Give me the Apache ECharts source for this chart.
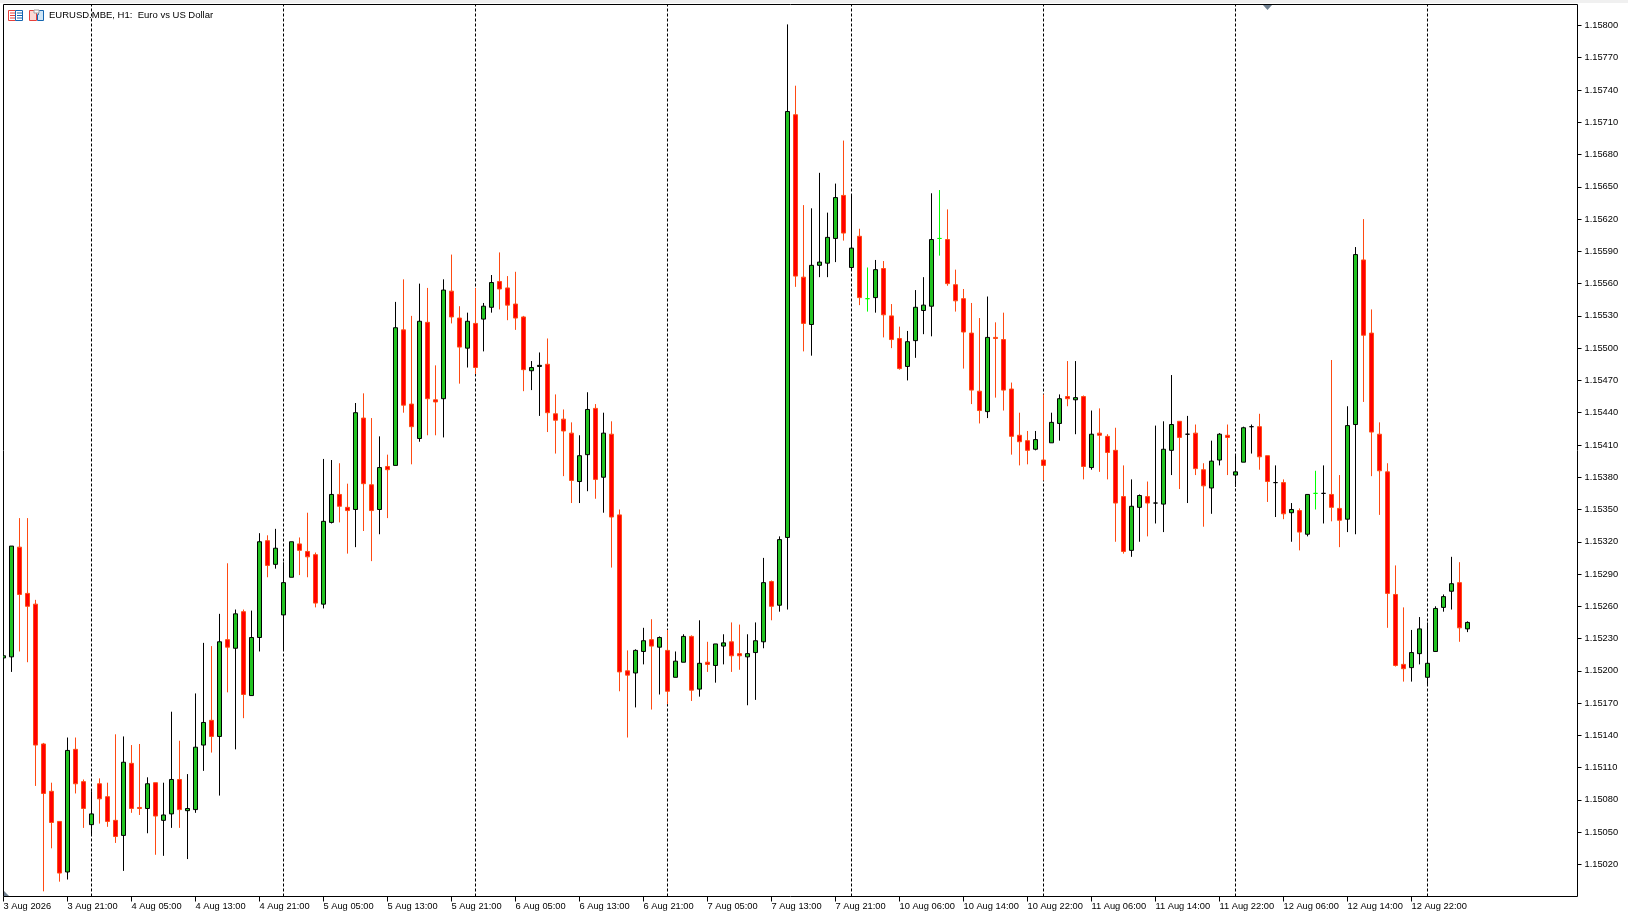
<!DOCTYPE html>
<html>
<head>
<meta charset="utf-8">
<title>EURUSD.MBE H1</title>
<script src="https://cdn.jsdelivr.net/npm/echarts@6/dist/echarts.min.js"></script>
<style>html,body{margin:0;padding:0;background:#fff;overflow:hidden}#c{width:1628px;height:917px}</style>
</head>
<body>
<div id="c"></div>
<script>
const opens = [1.15212,1.15213,1.15315,1.15272,1.15262,1.15132,1.15088,1.15060,1.15013,1.15127,1.15097,1.15057,1.15095,1.15083,1.15061,1.15047,1.15114,1.15073,1.15072,1.15096,1.15061,1.15067,1.15099,1.15070,1.15071,1.15131,1.15154,1.15139,1.15229,1.15221,1.15255,1.15177,1.15231,1.15321,1.15299,1.15252,
1.15287,1.15318,1.15311,1.15308,1.15262,1.15338,1.15364,1.15352,1.15350,1.15435,1.15373,1.15350,1.15390,1.15391,1.15517,1.15448,1.15416,1.15524,1.15452,1.15453,1.15553,1.15528,1.15500,1.15523,1.15527,1.15538,1.15562,1.15556,1.15541,1.15529,1.15479,1.15483,1.15485,1.15439,1.15434,1.15421,1.15376,1.15401,1.15444,1.15380,1.15420,
1.15345,1.15200,1.15198,1.15218,1.15229,1.15222,1.15219,1.15194,1.15208,1.15232,1.15183,1.15208,1.15205,1.15223,1.15227,1.15216,1.15213,1.15217,1.15227,1.15283,1.15261,1.15324,
1.15717,1.15566,1.15522,1.15577,1.15579,1.15602,1.15642,1.15575,1.15604,1.15546,1.15547,1.15574,1.15530,1.15509,1.15483,1.15507,1.15535,1.15539,1.15602,1.15601,1.15559,1.15546,1.15514,1.15460,1.15441,1.15510,1.15508,1.15462,1.15419,
1.15414,1.15406,1.15396,1.15412,1.15430,1.15455,1.15452,1.15455,1.15389,1.15421,1.15418,1.15405,1.15362,1.15312,1.15352,1.15362,1.15356,1.15355,1.15405,1.15432,1.15420,1.15421,1.15387,1.15370,1.15396,1.15419,1.15382,1.15394,1.15427,1.15427,1.15400,1.15375,1.15375,1.15347,1.15349,1.15327,1.15365,
1.15365,1.15364,1.15351,1.15341,1.15429,1.15582,1.15514,1.15420,1.15385,1.15271,1.15206,1.15203,1.15216,1.15194,1.15218,1.15259,1.15274,1.15282,1.15239];
const highs = [1.15214,1.15316,1.15342,1.15342,1.15266,1.15133,1.15096,1.15060,1.15138,1.15138,1.15099,1.15088,1.15100,1.15096,1.15141,1.15139,1.15131,1.15132,1.15101,1.15096,1.15096,1.15162,1.15135,1.15104,1.15179,1.15226,1.15223,1.15253,1.15300,1.15257,1.15257,1.15256,1.15328,1.15326,1.15332,1.15301,
1.15320,1.15324,1.15347,1.15310,1.15397,1.15396,1.15393,1.15374,1.15449,1.15458,1.15435,1.15418,1.15401,1.15543,1.15564,1.15530,1.15560,1.15556,1.15484,1.15564,1.15587,1.15539,1.15533,1.15556,1.15542,1.15568,1.15589,1.15567,1.15571,1.15530,1.15488,1.15496,1.15509,1.15457,1.15443,1.15431,1.15419,1.15459,1.15448,1.15440,1.15432,
1.15350,1.15219,1.15220,1.15240,1.15248,1.15232,1.15238,1.15218,1.15234,1.15233,1.15247,1.15227,1.15225,1.15234,1.15245,1.15243,1.15234,1.15245,1.15305,1.15284,1.15325,1.15801,
1.15744,1.15633,1.15630,1.15663,1.15626,1.15653,1.15693,1.15642,1.15611,1.15575,1.15582,1.15581,1.15541,1.15520,1.15516,1.15554,1.15566,1.15644,1.15647,1.15629,1.15573,1.15555,1.15542,1.15528,1.15548,1.15524,1.15533,1.15468,1.15440,
1.15423,1.15423,1.15457,1.15440,1.15457,1.15488,1.15488,1.15456,1.15442,1.15444,1.15420,1.15426,1.15391,1.15378,1.15364,1.15376,1.15428,1.15432,1.15475,1.15432,1.15437,1.15429,1.15393,1.15414,1.15421,1.15429,1.15401,1.15427,1.15429,1.15439,1.15400,1.15391,1.15378,1.15356,1.15351,1.15364,1.15386,
1.15391,1.15489,1.15382,1.15446,1.15594,1.15620,1.15536,1.15431,1.15393,1.15298,1.15259,1.15238,1.15250,1.15245,1.15260,1.15271,1.15306,1.15301,1.15246];
const lows = [1.15212,1.15199,1.15218,1.15208,1.15093,1.14995,1.15035,1.15004,1.15006,1.15086,1.15054,1.15047,1.15058,1.15055,1.15040,1.15014,1.15068,1.15066,1.15049,1.15029,1.15028,1.15054,1.15054,1.15025,1.15068,1.15107,1.15124,1.15084,1.15180,1.15127,1.15156,1.15177,1.15218,1.15287,1.15295,1.15220,
1.15287,1.15289,1.15287,1.15259,1.15258,1.15337,1.15338,1.15309,1.15315,1.15330,1.15302,1.15327,1.15342,1.15391,1.15440,1.15392,1.15413,1.15419,1.15419,1.15417,1.15523,1.15467,1.15482,1.15476,1.15497,1.15533,1.15536,1.15526,1.15517,1.15460,1.15461,1.15437,1.15422,1.15402,1.15381,1.15356,1.15356,1.15367,1.15360,1.15347,1.15296,
1.15181,1.15138,1.15166,1.15206,1.15164,1.15178,1.15169,1.15194,1.15208,1.15172,1.15176,1.15199,1.15189,1.15206,1.15199,1.15201,1.15168,1.15173,1.15221,1.15247,1.15255,1.15257,
1.15557,1.15497,1.15493,1.15566,1.15566,1.15580,1.15600,1.15572,1.15540,1.15534,1.15533,1.15510,1.15500,1.15480,1.15470,1.15491,1.15513,1.15511,1.15586,1.15558,1.15534,1.15481,1.15448,1.15430,1.15435,1.15454,1.15442,1.15401,1.15391,
1.15392,1.15405,1.15377,1.15412,1.15414,1.15446,1.15420,1.15378,1.15387,1.15385,1.15378,1.15320,1.15309,1.15306,1.15320,1.15325,1.15337,1.15329,1.15382,1.15369,1.15356,1.15382,1.15334,1.15346,1.15391,1.15382,1.15371,1.15394,1.15402,1.15387,1.15357,1.15343,1.15341,1.15320,1.15312,1.15325,1.15350,
1.15337,1.15339,1.15315,1.15329,1.15327,1.15450,1.15381,1.15345,1.15240,1.15204,1.15190,1.15190,1.15206,1.15187,1.15218,1.15255,1.15257,1.15227,1.15236];
const closes = [1.15214,1.15316,1.15271,1.15260,1.15131,1.15086,1.15059,1.15012,1.15126,1.15095,1.15072,1.15067,1.15081,1.15060,1.15046,1.15115,1.15072,1.15072,1.15095,1.15065,1.15066,1.15099,1.15071,1.15072,1.15129,1.15152,1.15139,1.15227,1.15222,1.15253,1.15178,1.15231,1.15320,1.15298,1.15314,1.15282,
1.15320,1.15312,1.15306,1.15263,1.15339,1.15364,1.15353,1.15349,1.15440,1.15374,1.15349,1.15389,1.15387,1.15519,1.15447,1.15427,1.15525,1.15453,1.15450,1.15554,1.15529,1.15501,1.15525,1.15482,1.15539,1.15561,1.15555,1.15540,1.15528,1.15480,1.15482,1.15484,1.15440,1.15433,1.15423,1.15377,1.15400,1.15443,1.15378,1.15421,1.15343,
1.15199,1.15196,1.15219,1.15228,1.15223,1.15231,1.15181,1.15209,1.15232,1.15182,1.15207,1.15206,1.15225,1.15226,1.15214,1.15214,1.15216,1.15228,1.15282,1.15260,1.15322,1.15720,
1.15567,1.15523,1.15577,1.15580,1.15603,1.15640,1.15607,1.15593,1.15547,1.15546,1.15573,1.15531,1.15508,1.15481,1.15506,1.15538,1.15540,1.15601,1.15602,1.15560,1.15544,1.15515,1.15461,1.15442,1.15510,1.15509,1.15461,1.15418,1.15413,
1.15405,1.15415,1.15391,1.15431,1.15453,1.15453,1.15454,1.15390,1.15420,1.15419,1.15403,1.15356,1.15311,1.15353,1.15363,1.15356,1.15356,1.15406,1.15429,1.15417,1.15420,1.15388,1.15372,1.15395,1.15420,1.15417,1.15385,1.15426,1.15427,1.15399,1.15376,1.15375,1.15346,1.15350,1.15329,1.15364,1.15365,
1.15365,1.15352,1.15340,1.15428,1.15587,1.15512,1.15422,1.15386,1.15272,1.15205,1.15202,1.15217,1.15239,1.15207,1.15258,1.15269,1.15281,1.15240,1.15245];

const tickLabels = ['3 Aug 2026','3 Aug 21:00','4 Aug 05:00','4 Aug 13:00','4 Aug 21:00','5 Aug 05:00','5 Aug 13:00','5 Aug 21:00','6 Aug 05:00','6 Aug 13:00','6 Aug 21:00','7 Aug 05:00','7 Aug 13:00','7 Aug 21:00','10 Aug 06:00','10 Aug 14:00','10 Aug 22:00','11 Aug 06:00','11 Aug 14:00','11 Aug 22:00','12 Aug 06:00','12 Aug 14:00','12 Aug 22:00'];
const barsPerTick = 8;
const priceTicks = [1.1502,1.1505,1.1508,1.1511,1.1514,1.1517,1.152,1.1523,1.1526,1.1529,1.1532,1.1535,1.1538,1.1541,1.1544,1.1547,1.155,1.1553,1.1556,1.1559,1.1562,1.1565,1.1568,1.1571,1.1574,1.1577,1.158];
const daySeparators = [11,35,59,83,106,130,154,178];
const limeDoji = [108,117,164];
const blackDoji = [144,148,156,159,165];
const title = 'EURUSD.MBE, H1:  Euro vs US Dollar';

const UP_FILL = '#22c322', DOWN_FILL = '#ff0000', UP_LINE = '#000000', DOWN_LINE = '#ff4a12';
const FONT = '"Liberation Sans", Arial, sans-serif';
const xTicks = tickLabels.map((_, k) => k * barsPerTick);

const candleData = opens.map((o, i) => {
  const item = { value: [i, o, closes[i], lows[i], highs[i]] };
  const dojiColor = limeDoji.includes(i) ? '#00ff00' : blackDoji.includes(i) ? '#000000' : null;
  if (dojiColor) item.itemStyle = { color: dojiColor, color0: dojiColor, borderColor: dojiColor, borderColor0: dojiColor, borderColorDoji: dojiColor };
  return item;
});

const chart = echarts.init(document.getElementById('c'), null, { renderer: 'canvas' });
chart.setOption({
  animation: false,
  backgroundColor: '#ffffff',
  grid: { left: 3.5, top: 4.5, width: 1574, height: 892, show: true, borderColor: '#000', borderWidth: 1, backgroundColor: 'transparent', containLabel: false },
  xAxis: {
    type: 'value', min: 0, max: 196.75, position: 'bottom', scale: true,
    splitLine: { show: false },
    axisLine: { show: false, onZero: false },
    axisTick: { show: true, length: 5, inside: false, customValues: xTicks, lineStyle: { color: '#000', width: 1 } },
    axisLabel: {
      show: true, customValues: xTicks, margin: 5, align: 'left', color: '#000',
      fontFamily: FONT, fontSize: 9.3, hideOverlap: false, showMinLabel: true, showMaxLabel: true,
      formatter: (v) => tickLabels[Math.round(v / barsPerTick)] || ''
    }
  },
  yAxis: {
    type: 'value', position: 'right', min: 1.149902, max: 1.158195, scale: true,
    splitLine: { show: false },
    axisLine: { show: false, onZero: false },
    axisTick: { show: true, length: 4, customValues: priceTicks, lineStyle: { color: '#000', width: 1 } },
    axisLabel: {
      show: true, customValues: priceTicks, margin: 7, color: '#000', padding: [2, 0, 0, 0],
      fontFamily: FONT, fontSize: 9.3, formatter: (v) => v.toFixed(5)
    }
  },
  series: [
    {
      type: 'line', data: [], z: 1, silent: true, symbol: 'none',
      markLine: {
        z: 1, silent: true, symbol: 'none', animation: false, label: { show: false },
        lineStyle: { color: '#000', width: 1, type: [3, 2] },
        data: daySeparators.map(i => ({ xAxis: i }))
      }
    },
    {
      type: 'candlestick', z: 3, clip: true, barWidth: 4,
      itemStyle: { color: UP_FILL, color0: DOWN_FILL, borderColor: UP_LINE, borderColor0: DOWN_LINE, borderWidth: 1 },
      data: candleData
    }
  ],
  graphic: [
    { type: 'rect', z: 0, silent: true, shape: { x: 0, y: 0, width: 1628, height: 3 }, style: { fill: '#f0f0f0' } },
    { type: 'rect', z: 4, silent: true, shape: { x: 0, y: 4, width: 3, height: 893 }, style: { fill: '#ffffff' } },
    { type: 'text', z: 0, silent: true, style: { x: 49, y: 15, text: title, fill: '#000', font: '9.5px ' + FONT, textVerticalAlign: 'middle', verticalAlign: 'middle' } },
    // chart-window icons
    { type: 'rect', z: 0, silent: true, shape: { x: 8.5, y: 10.5, width: 7, height: 10 }, style: { fill: '#fff', stroke: '#e8403a', lineWidth: 1 } },
    { type: 'rect', z: 0, silent: true, shape: { x: 15.5, y: 10.5, width: 7, height: 10 }, style: { fill: '#fff', stroke: '#1566b0', lineWidth: 1 } },
    ...[13, 15.5, 18].map(y => ({ type: 'line', z: 0, silent: true, shape: { x1: 10, y1: y, x2: 15, y2: y }, style: { stroke: '#e8403a', lineWidth: 1 } })),
    ...[13, 15.5, 18].map(y => ({ type: 'line', z: 0, silent: true, shape: { x1: 17, y1: y, x2: 22, y2: y }, style: { stroke: '#1566b0', lineWidth: 1 } })),
    { type: 'polygon', z: 0, silent: true, shape: { points: [[29.5, 10.5], [36.5, 10.5], [36.5, 20.5], [29.5, 20.5]] }, style: { fill: '#fbd9d4', stroke: '#e8403a', lineWidth: 1 } },
    { type: 'polygon', z: 0, silent: true, shape: { points: [[38.5, 10.5], [43.5, 10.5], [43.5, 20.5], [37.5, 20.5], [37.5, 14.5], [38.5, 14.5]] }, style: { fill: '#cfe6f7', stroke: '#1566b0', lineWidth: 1 } },
    { type: 'rect', z: 0, silent: true, shape: { x: 34, y: 10, width: 5, height: 3 }, style: { fill: '#fff', stroke: '#a0a0a0', lineWidth: 1 } },
    // small chart-shift and scale markers
    { type: 'polygon', z: 5, silent: true, shape: { points: [[1263, 5], [1272, 5], [1267.5, 10]] }, style: { fill: '#708090' } },
    { type: 'polygon', z: 5, silent: true, shape: { points: [[4, 891], [4, 896], [9, 896]] }, style: { fill: '#708090' } }
  ]
});
</script>
</body>
</html>
